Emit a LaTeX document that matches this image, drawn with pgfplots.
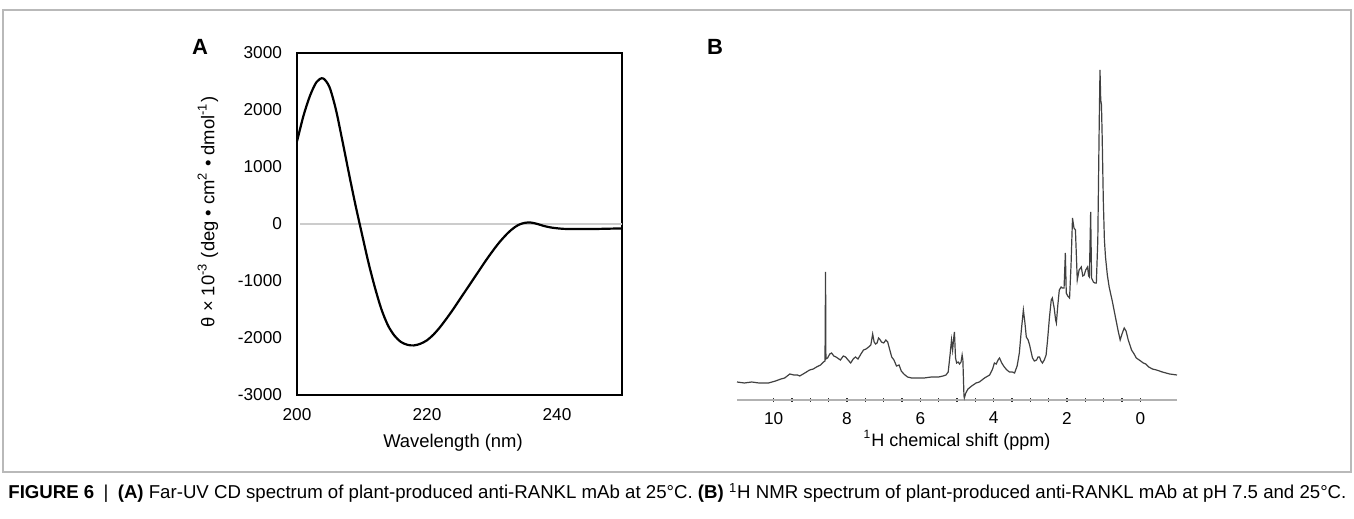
\documentclass[border=0pt]{standalone}
\usepackage{fontspec}
\setmainfont{Liberation Sans}
\usepackage{pgfplots}
\pgfplotsset{compat=1.18}

% far-UV CD spectrum (nm, theta x 10^-3)
\pgfplotstableread{
lam val
200 1450
201 1900
202 2250
203 2490
204 2555
205 2400
206 2000
207 1450
208 880
209 330
210 -180
211 -680
212 -1120
213 -1500
214 -1780
215 -1960
216 -2070
217 -2120
218 -2130
219 -2100
220 -2040
221 -1940
222 -1810
223 -1660
224 -1500
225 -1330
226 -1160
227 -990
228 -820
229 -650
230 -490
231 -340
232 -210
233 -100
234 -20
235 20
236 25
237 0
238 -35
239 -60
240 -75
241 -85
242 -88
244 -88
246 -87
248 -82
250 -78
}\cdtable

% 1H NMR spectrum (ppm, intensity, arbitrary)
\pgfplotstableread{
ppm h
11.0 18
10.8 17
10.6 18
10.4 17
10.14 17
9.95 19
9.8 21
9.7 22
9.56 26
9.45 25
9.35 25
9.29 24
9.15 27
9.02 30
8.92 31
8.83 33
8.72 35
8.64 38
8.60 39
8.585 128
8.575 41
8.53 42
8.47 46
8.42 47
8.36 44
8.30 43
8.26 42
8.18 40
8.10 44
8.04 43
7.97 40
7.90 37
7.83 41
7.77 43
7.70 41
7.62 46
7.55 50
7.48 51
7.41 53
7.35 55
7.30 66
7.26 58
7.22 56
7.18 57
7.14 62
7.11 61
7.06 58
7.00 57
6.94 60
6.89 58
6.84 51
6.78 43
6.72 40
6.65 34
6.58 35
6.52 29
6.45 26
6.35 23
6.24 22
6.1 22
5.9 22
5.7 23
5.5 23
5.38 24
5.30 25
5.24 28
5.19 45
5.15 60
5.12 50
5.09 62
5.07 68
5.04 42
5.01 37
4.97 38
4.93 36
4.89 38
4.86 45
4.84 40
4.81 4
4.80 2
4.76 7
4.70 11
4.60 14
4.48 17
4.39 18
4.25 22
4.11 25
4.03 31
3.98 37
3.93 36
3.88 40
3.84 42
3.78 37
3.71 33
3.64 30
3.57 28
3.49 28
3.43 27
3.36 34
3.30 47
3.25 68
3.19 90
3.15 78
3.11 63
3.06 60
3.02 55
2.96 45
2.94 42
2.89 39
2.83 40
2.79 43
2.75 43
2.71 39
2.67 37
2.62 40
2.57 45
2.53 60
2.48 82
2.43 100
2.40 102
2.35 92
2.31 80
2.29 77
2.25 95
2.21 110
2.16 113
2.13 112
2.08 112
2.045 147
2.02 107
1.98 104
1.93 102
1.89 135
1.85 182
1.81 172
1.77 170
1.74 140
1.72 120
1.67 130
1.61 133
1.57 124
1.53 125
1.49 130
1.44 133
1.41 124
1.39 123
1.355 188
1.33 122
1.28 118
1.24 117
1.20 117
1.16 160
1.12 280
1.10 330
1.08 300
1.06 295
1.04 262
1.01 200
0.98 160
0.95 143
0.90 125
0.85 113
0.76 98
0.68 83
0.61 70
0.55 60
0.50 66
0.44 72
0.39 69
0.33 60
0.24 50
0.17 46
0.11 42
0.03 40
-0.08 37
-0.15 36
-0.23 33
-0.33 31
-0.44 30
-0.6 28
-0.8 26
-1.0 25
}\nmrtable

\begin{document}
\begin{tikzpicture}
\useasboundingbox (0,0) rectangle (677pt,259.5pt);
\draw[gray!55, line width=0.6pt] (1.5pt,23.5pt) rectangle (675.5pt,254.5pt);

% panel A
\begin{axis}[
  at={(148.5pt,62pt)}, anchor=south west,
  scale only axis, width=162.5pt, height=171pt,
  xmin=200, xmax=250, ymin=-3000, ymax=3000,
  xtick={200,220,240},
  ytick={-3000,-2000,-1000,0,1000,2000,3000},
  yticklabels={-3000,-2000,-1000,0,1000,2000,3000},
  major tick length=0pt,
  axis line style={line width=1pt},
  /pgf/number format/assume math mode=true,
  tick label style={font=\fontsize{8.6}{10}\selectfont},
  yticklabel style={xshift=-4pt},
  xticklabel style={yshift=-3pt},
  label style={font=\fontsize{9.2}{11}\selectfont},
  xlabel={Wavelength (nm)},
  xlabel style={at={(axis description cs:0.48,-0.14)}, anchor=center},
  ylabel={θ × 10\textsuperscript{-3} (deg • cm\textsuperscript{2} • dmol\textsuperscript{-1})},
  ylabel style={at={(axis description cs:-0.274,0.535)}, anchor=center},
  clip=false]
\addplot[gray!40, line width=0.8pt] coordinates {(200.5,0) (250,0)};
\addplot[black, line width=1.1pt, smooth] table[x=lam, y=val] {\cdtable};
\end{axis}

% panel B
\begin{axis}[
  at={(368.5pt,59.5pt)}, anchor=south west,
  scale only axis, width=220pt, height=170pt,
  xmin=-1, xmax=11, ymin=0, ymax=340,
  x dir=reverse,
  axis x line*=bottom, hide y axis,
  xtick={0,2,4,6,8,10},
  minor x tick num=3,
  tick align=center,
  major tick length=2pt, minor tick length=2pt,
  axis line style={gray!60, line width=1.2pt},
  tick style={black!80, line width=0.8pt},
  /pgf/number format/assume math mode=true,
  tick label style={font=\fontsize{8.6}{10}\selectfont},
  xticklabel style={yshift=-1.5pt},
  label style={font=\fontsize{9}{11}\selectfont},
  xlabel={\textsuperscript{1}H chemical shift (ppm)},
  xlabel style={at={(axis description cs:0.5,-0.118)}, anchor=center},
  clip=false]
\addplot[black!75, line width=0.6pt] table[x=ppm, y=h] {\nmrtable};
\end{axis}

\node[font=\fontsize{11}{13}\selectfont\bfseries] at (100pt,236pt) {A};
\node[font=\fontsize{11}{13}\selectfont\bfseries] at (357.5pt,236pt) {B};

\node[anchor=west, inner sep=0pt] at (4pt,13pt) {\resizebox{669pt}{!}{\textbf{FIGURE 6}\enspace|\enspace\textbf{(A)} Far-UV CD spectrum of plant-produced anti-RANKL mAb at 25°C. \textbf{(B)} \textsuperscript{1}H NMR spectrum of plant-produced anti-RANKL mAb at pH 7.5 and 25°C.}};
\end{tikzpicture}
\end{document}
